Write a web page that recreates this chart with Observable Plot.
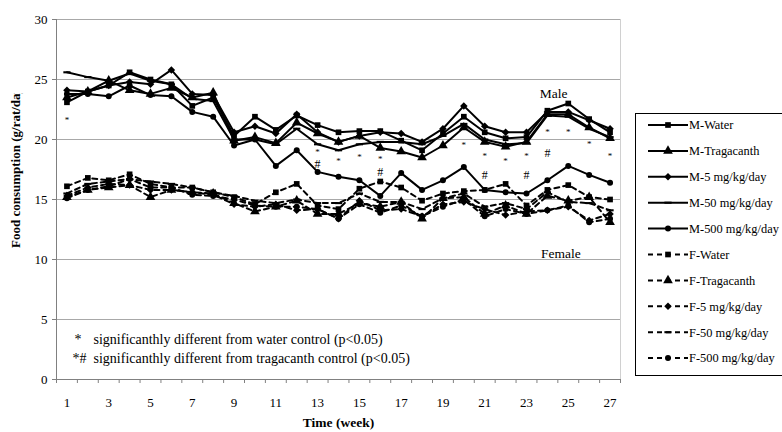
<!DOCTYPE html>
<html>
<head>
<meta charset="utf-8">
<script src="https://cdn.jsdelivr.net/npm/d3@7"></script>
<script src="https://cdn.jsdelivr.net/npm/@observablehq/plot@0.6"></script>
<style>
  html, body { margin: 0; padding: 0; background: #fff; }
  #chart { width: 782px; height: 432px; }
</style>
</head>
<body>
<div id="chart"></div>
<script>
// ---- data ----
const weeks = d3.range(1, 28);
const xTickLabels = d3.range(1, 28, 2);
const yTicks = [0, 5, 10, 15, 20, 25, 30];

const mWater = [23.1, 24.0, 24.5, 25.6, 25.0, 24.6, 22.8, 23.5, 20.3, 21.9, 20.8, 22.0, 21.2, 20.6, 20.7, 20.7, 19.9, 19.1, 20.5, 21.9, 20.6, 20.1, 20.2, 22.4, 23.0, 21.7, 20.6];
const mTrag  = [23.5, 24.0, 24.9, 24.1, 23.8, 24.3, 23.5, 23.9, 19.9, 20.2, 19.7, 21.4, 20.5, 19.8, 20.3, 19.3, 19.0, 18.5, 19.5, 21.0, 19.8, 19.4, 19.8, 22.1, 22.1, 21.0, 20.1];
const m5     = [24.1, 24.0, 24.5, 24.8, 24.6, 25.8, 23.8, 23.7, 20.6, 21.1, 20.5, 22.1, 20.6, 19.8, 20.3, 20.6, 20.5, 19.8, 20.9, 22.8, 21.1, 20.6, 20.6, 22.3, 22.3, 21.6, 20.9];
const m50    = [25.6, 25.2, 24.9, 25.5, 24.9, 24.6, 23.4, 23.2, 20.0, 20.0, 19.6, 20.9, 19.6, 19.1, 19.6, 19.8, 19.8, 19.6, 20.3, 21.3, 20.0, 19.6, 19.7, 22.0, 21.9, 20.9, 20.2];
const m500   = [23.8, 23.8, 23.6, 24.5, 23.7, 23.6, 22.3, 21.9, 19.5, 20.0, 17.8, 19.1, 17.3, 16.9, 16.6, 15.3, 17.2, 15.8, 16.6, 17.7, 15.8, 15.6, 15.5, 16.6, 17.8, 17.05, 16.4];

const fWater = [16.1, 16.8, 16.6, 17.1, 16.3, 16.0, 16.0, 15.6, 15.2, 14.6, 15.6, 16.3, 14.5, 14.2, 15.9, 16.5, 16.0, 14.9, 15.5, 15.7, 15.8, 16.3, 14.5, 15.8, 16.2, 15.2, 15.0];
const fTrag  = [15.2, 15.8, 16.0, 16.2, 15.2, 15.8, 15.6, 15.5, 14.7, 14.0, 14.4, 14.9, 13.8, 13.8, 14.7, 14.4, 14.8, 13.4, 15.1, 15.2, 13.8, 14.5, 13.8, 15.3, 14.9, 15.2, 13.1];
const f5     = [15.3, 16.0, 16.3, 16.2, 15.8, 15.8, 15.6, 15.4, 14.6, 14.4, 14.6, 14.1, 14.2, 13.4, 14.9, 14.1, 14.2, 13.6, 14.6, 14.8, 14.2, 13.7, 14.0, 14.1, 14.4, 13.25, 13.8];
const f50    = [15.5, 16.3, 16.5, 16.7, 16.5, 16.3, 16.0, 15.6, 15.3, 14.9, 14.7, 15.0, 14.7, 14.7, 15.5, 14.8, 14.8, 14.2, 15.1, 15.5, 14.4, 14.7, 14.2, 15.6, 14.8, 14.7, 14.1];
const f500   = [15.1, 15.8, 16.1, 16.7, 16.0, 16.0, 15.4, 15.3, 15.0, 14.5, 14.4, 14.4, 14.2, 13.4, 14.6, 13.9, 14.5, 13.6, 14.4, 15.0, 13.6, 14.2, 13.8, 14.1, 14.5, 13.1, 13.4];

const seriesNames = ["M-Water", "M-Tragacanth", "M-5 mg/kg/day", "M-50 mg/kg/day", "M-500 mg/kg/day",
                     "F-Water", "F-Tragacanth", "F-5 mg/kg/day", "F-50 mg/kg/day", "F-500 mg/kg/day"];
const seriesValues = [mWater, mTrag, m5, m50, m500, fWater, fTrag, f5, f50, f500];

// significance marks
const starWeeks  = [1, 13, 14, 15, 16, 20, 21, 22, 23, 24, 25, 26, 27];
const starValues = [21.8, 19.1, 18.4, 18.7, 18.55, 19.7, 18.8, 18.4, 18.8, 20.8, 20.8, 19.8, 18.8];
const hashWeeks  = [13, 16, 21, 23, 24];
const hashValues = [17.95, 17.3, 17.0, 17.0, 18.9];

const noteLines = ["significanthly different from water control (p<0.05)",
                   "significanthly different from tragacanth control (p<0.05)"];
const noteSymbols = ["*", "*#"];

// ---- styles ----
const dashSymbol = {
  draw(ctx, size) {
    const r = Math.sqrt(size / Math.PI);
    ctx.moveTo(-r * 1.2, -r * 0.35);
    ctx.lineTo(r * 1.2, -r * 0.35);
    ctx.lineTo(r * 1.2, r * 0.35);
    ctx.lineTo(-r * 1.2, r * 0.35);
    ctx.closePath();
  }
};
const symbols = [d3.symbolSquare, d3.symbolTriangle, d3.symbolDiamond2, dashSymbol, d3.symbolCircle];
const radii = [3.2, 3.6, 3.4, 3, 3];
const DASH = "5,4";
const FONT = "'Liberation Serif', 'Times New Roman', Times, serif";

const series = seriesNames.map((name, i) => ({
  name,
  female: i >= 5,
  symbol: symbols[i % 5],
  r: radii[i % 5],
  rows: seriesValues[i].map((v, j) => ({week: weeks[j], value: v, series: name}))
}));

const maleRows = series.filter(s => !s.female).flatMap(s => s.rows);
const femaleRows = series.filter(s => s.female).flatMap(s => s.rows);

const stars = starWeeks.map((w, i) => ({week: w, value: starValues[i]}));
const hashes = hashWeeks.map((w, i) => ({week: w, value: hashValues[i]}));

const chart = Plot.plot({
  width: 782,
  height: 432,
  marginLeft: 56,
  marginRight: 162,
  marginTop: 19,
  marginBottom: 53,
  style: {fontFamily: FONT, fontSize: "13px", background: "#fff", color: "#000"},
  x: {domain: [0.5, 27.5], label: null},
  y: {domain: [0, 30], label: null},
  marks: [
    Plot.ruleY([5, 10, 15, 20, 25, 30], {stroke: "#a8a8a8", strokeWidth: 1}),
    Plot.ruleX([27.5], {stroke: "#d0d0d0"}),
    Plot.axisY(yTicks, {tickSize: 4, tickPadding: 5, stroke: "#808080", fill: "#000", fontSize: 13, label: null}),
    Plot.axisX(xTickLabels, {tickSize: 0, tickPadding: 18, fontSize: 13, fill: "#000", label: null}),
    Plot.axisX(d3.range(0.5, 28, 1), {tickSize: 4, tickFormat: () => "", stroke: "#808080", label: null}),
    Plot.ruleY([0], {stroke: "#808080"}),
    Plot.ruleX([0.5], {stroke: "#808080"}),
    Plot.line(femaleRows, {x: "week", y: "value", z: "series", stroke: "#000", strokeWidth: 2, strokeDasharray: DASH}),
    Plot.line(maleRows, {x: "week", y: "value", z: "series", stroke: "#000", strokeWidth: 2}),
    ...series.map(s => Plot.dot(s.rows, {x: "week", y: "value", symbol: s.symbol, r: s.r, fill: "#000", stroke: "none"})),
    Plot.text(stars, {x: "week", y: "value", text: () => "*", fontSize: 9, dy: 2}),
    Plot.text(hashes, {x: "week", y: "value", text: () => "#", fontSize: 12}),
    Plot.text([{t: "Male", w: 24.3, v: 23.8}], {x: "w", y: "v", text: "t", fontSize: 13.5}),
    Plot.text([{t: "Female", w: 24.65, v: 10.5}], {x: "w", y: "v", text: "t", fontSize: 13.5}),
    Plot.text([noteSymbols[0]], {text: d => d, frameAnchor: "bottom-left", textAnchor: "start", dx: 18, dy: -36, fontSize: 14}),
    Plot.text([noteLines[0]], {text: d => d, frameAnchor: "bottom-left", textAnchor: "start", dx: 37, dy: -36, fontSize: 14}),
    Plot.text([noteSymbols[1]], {text: d => d, frameAnchor: "bottom-left", textAnchor: "start", dx: 16, dy: -17, fontSize: 14}),
    Plot.text([noteLines[1]], {text: d => d, frameAnchor: "bottom-left", textAnchor: "start", dx: 37, dy: -17, fontSize: 14}),
    Plot.text(["Time (week)"], {text: d => d, frameAnchor: "bottom", dy: 47, fontSize: 13.5, fontWeight: "bold"})
  ]
});

document.getElementById("chart").appendChild(chart);

// ---- y-axis title (clipped like the reference) ----
const svg = d3.select(chart);
svg.append("defs").append("clipPath").attr("id", "ytclip")
  .append("rect").attr("x", 0).attr("y", 93).attr("width", 40).attr("height", 300);
svg.append("g").attr("clip-path", "url(#ytclip)")
  .append("text")
  .attr("transform", "translate(20,248) rotate(-90)")
  .attr("text-anchor", "start")
  .attr("font-weight", "bold")
  .attr("font-size", 13)
  .attr("fill", "#000")
  .text("Food consumption (g/rat/day)");

// ---- legend ----
const lg = svg.append("g").attr("font-size", 12.4).attr("font-family", FONT).attr("text-anchor", "start");
lg.append("rect").attr("x", 635.5).attr("y", 113.5).attr("width", 200).attr("height", 262)
  .attr("fill", "#fff").attr("stroke", "#000").attr("stroke-width", 1);
series.forEach((s, i) => {
  const y = 125 + i * 25.9;
  lg.append("line").attr("x1", 648).attr("x2", 688).attr("y1", y).attr("y2", y)
    .attr("stroke", "#000").attr("stroke-width", 2)
    .attr("stroke-dasharray", s.female ? DASH : null);
  lg.append("path").attr("d", d3.symbol(s.symbol, Math.PI * s.r * s.r)())
    .attr("transform", `translate(668,${y})`).attr("fill", "#000");
  lg.append("text").attr("x", 689).attr("y", y).attr("dy", "0.35em").attr("fill", "#000").text(s.name);
});
</script>
</body>
</html>
